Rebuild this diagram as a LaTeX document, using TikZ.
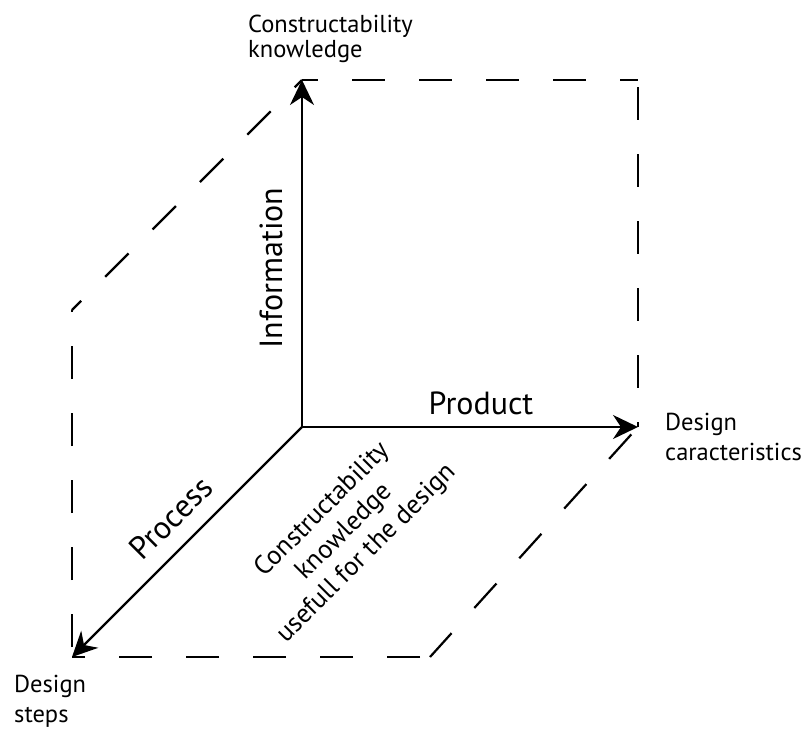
\documentclass[tikz,border=0pt]{standalone}
\usepackage{fontspec}
\setmainfont{PT Sans}
\usetikzlibrary{arrows.meta}
\begin{document}
\begin{tikzpicture}[x=1pt,y=-1pt,
  axis/.style={line width=2.2pt, -{Stealth[length=25pt,width=24pt,inset=8pt]}},
  dashline/.style={line width=2.2pt, dash pattern=on 33pt off 34pt},
  small/.style={font=\fontsize{24.5}{25}\selectfont, align=left, inner sep=0pt, anchor=west},
  big/.style={font=\fontsize{32}{34}\selectfont, inner sep=0pt}]
\useasboundingbox (0,0) rectangle (806,729);
% corners
\coordinate (O) at (302,427);
\coordinate (I) at (302,80);
\coordinate (P) at (638,427);
\coordinate (S) at (72,657);
\coordinate (TR) at (638,80);
\coordinate (LU) at (72,310);
\coordinate (BR) at (430,657);
% dashed frame
\draw[dashline, dash phase=17pt] (I) -- (TR);
\draw[dashline, dash phase=-7pt] (TR) -- (P);
\draw[dashline, dash phase=-10pt] (P) -- (BR);
\draw[dashline, dash phase=-10pt] (BR) -- (S);
\draw[dashline, dash phase=-10pt] (S) -- (LU);
\draw[dashline, dash phase=20pt] (LU) -- (I);
% axes
\draw[axis] (O) -- (I);
\draw[axis] (O) -- (P);
\draw[axis] (O) -- (S);
% labels
\node[small] (lt) at (248,39) {Constructability\\knowledge};
\node[small, font=\fontsize{24.5}{30}\selectfont] (lr) at (665,437) {Design\\caracteristics};
\node[small, font=\fontsize{24.5}{30}\selectfont] (lb) at (14,701) {Design\\steps};
\node[big, rotate=90] (info) at (271,268) {Information};
\node[big] (prod) at (481,403) {Product};
\node[big, rotate=45] (proc) at (171,518) {Process};
\node[font=\fontsize{26.5}{31}\selectfont, align=center, inner sep=0pt, rotate=45] (mid) at (345,532) {Constructability\\knowledge\\usefull for the design};
\end{tikzpicture}
\end{document}
